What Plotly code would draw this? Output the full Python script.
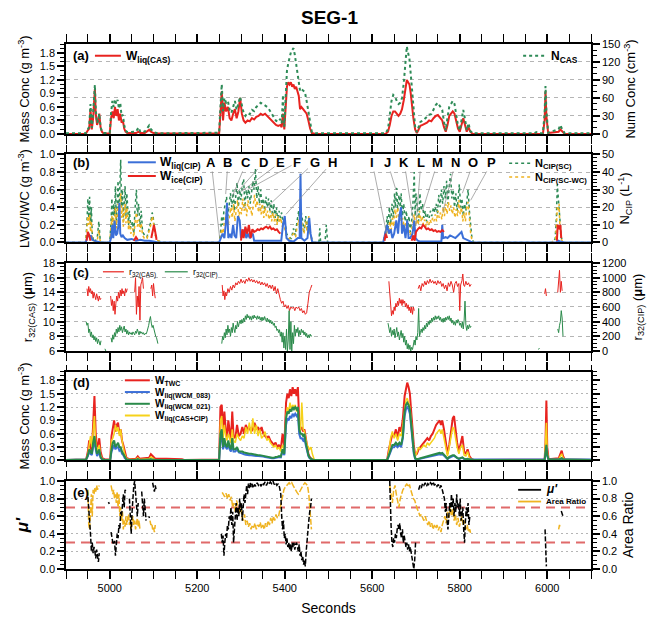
import plotly.graph_objects as go

FONT = "Liberation Sans, Arial, Helvetica, sans-serif"

# ---------------- Panel (a) ----------------
W_LIQ_CAS = [[4900,0],[4945,0],[4950,0.08],[4953,0.12],[4956,0.55],[4959,0.1],[4962,0.35],[4964,0.7],[4966,1.0],[4968,0.45],
    [4971,0.2],[4974,0.3],[4976,0.45],[4979,0.15],[4982,0.05],[4986,0.01],[5000,0.01],[5003,0.35],[5006,0.5],[5009,0.35],
    [5012,0.6],[5015,0.4],[5018,0.55],[5021,0.3],[5024,0.45],[5027,0.25],[5030,0.3],[5033,0.12],[5036,0.05],[5040,0.02],
    [5050,0.02],[5060,0.02],[5066,0.05],[5070,0.02],[5080,0.02],[5086,0.06],[5090,0.09],[5094,0.05],[5100,0.02],[5110,0.01],
    [5250,0.01],[5253,0.45],[5256,0.95],[5259,0.3],[5262,0.7],[5266,0.5],[5270,0.6],[5274,0.35],[5278,0.3],[5282,0.45],
    [5286,0.55],[5290,0.35],[5294,0.5],[5298,0.8],[5302,0.45],[5306,0.3],[5310,0.25],[5315,0.3],[5320,0.28],[5325,0.35],
    [5330,0.32],[5335,0.38],[5340,0.4],[5345,0.45],[5350,0.42],[5355,0.45],[5360,0.4],[5365,0.35],[5370,0.3],[5375,0.25],
    [5380,0.2],[5385,0.18],[5390,0.2],[5393,0.15],[5396,0.45],[5399,0.1],[5402,0.6],[5405,1.05],[5408,1.15],[5411,1.1],
    [5414,1.15],[5417,1.05],[5420,1.1],[5423,1.0],[5426,1.05],[5429,0.95],[5432,0.85],[5435,0.55],[5438,0.6],[5442,0.55],
    [5446,0.5],[5450,0.45],[5454,0.3],[5458,0.12],[5462,0.02],[5470,0.0],[5630,0.0],[5636,0.05],[5640,0.2],[5644,0.4],
    [5648,0.5],[5652,0.5],[5656,0.45],[5660,0.4],[5664,0.45],[5668,0.55],[5672,0.75],[5676,1.05],[5679,1.2],[5682,1.15],
    [5685,1.1],[5688,0.9],[5691,0.6],[5694,0.35],[5698,0.1],[5702,0.02],[5706,0.1],[5710,0.18],[5715,0.2],[5720,0.22],
    [5725,0.25],[5730,0.3],[5735,0.28],[5740,0.35],[5745,0.4],[5750,0.42],[5755,0.35],[5760,0.3],[5764,0.15],[5768,0.05],
    [5772,0.2],[5776,0.4],[5780,0.45],[5784,0.5],[5788,0.45],[5792,0.3],[5796,0.12],[5800,0.05],[5804,0.2],[5808,0.35],
    [5812,0.2],[5816,0.05],[5820,0.15],[5824,0.05],[5830,0.0],[5990,0.0],[5994,0.3],[5996,0.95],[5998,0.4],[6002,0.02],
    [6026,0.05],[6030,0.1],[6034,0.06],[6040,0.0],[6100,0.0]]

N_CAS = [[4900,1],[4945,1],[4950,8],[4953,12],[4956,50],[4959,10],[4962,35],[4964,60],[4966,82],[4968,40],
    [4971,18],[4974,25],[4976,34],[4979,12],[4982,4],[4986,1.5],[5000,2],[5003,35],[5006,55],[5009,45],
    [5012,58],[5015,50],[5018,57],[5021,42],[5024,52],[5027,30],[5030,32],[5033,15],[5036,6],[5040,3],
    [5050,3],[5060,4],[5066,11],[5070,3],[5080,4],[5086,10],[5090,14],[5094,8],[5100,3],[5110,1],
    [5250,2],[5253,45],[5256,83],[5259,38],[5262,60],[5266,52],[5270,55],[5274,40],[5278,35],[5282,45],
    [5286,55],[5290,40],[5294,50],[5298,62],[5302,48],[5306,35],[5310,30],[5315,35],[5320,33],[5325,40],
    [5330,38],[5335,45],[5340,48],[5345,52],[5350,50],[5355,48],[5360,45],[5365,40],[5370,35],[5375,28],
    [5380,22],[5385,20],[5390,25],[5393,18],[5396,65],[5399,12],[5402,60],[5405,105],[5408,118],[5411,128],
    [5414,136],[5417,140],[5420,143],[5423,132],[5426,115],[5429,100],[5432,85],[5435,72],[5438,75],[5442,72],
    [5446,70],[5450,55],[5454,35],[5458,15],[5462,3],[5470,1],[5630,1],[5636,8],[5640,30],[5644,55],
    [5648,65],[5652,62],[5656,55],[5660,50],[5664,52],[5668,60],[5672,85],[5676,125],[5679,146],[5682,135],
    [5685,125],[5688,100],[5691,70],[5694,40],[5698,12],[5702,3],[5706,12],[5710,20],[5715,22],[5720,25],
    [5725,28],[5730,32],[5735,33],[5740,40],[5745,48],[5750,52],[5755,45],[5760,40],[5764,20],[5768,6],
    [5772,28],[5776,45],[5780,50],[5784,55],[5788,50],[5792,35],[5796,14],[5800,6],[5804,25],[5808,40],
    [5812,25],[5816,6],[5820,18],[5824,5],[5830,1],[5970,1],[5975,3],[5980,1],[5990,1],[5994,35],
    [5996,80],[5998,40],[6002,2],[6026,8],[6030,15],[6034,8],[6040,1],[6100,1]]

# ---------------- Panel (b) ----------------
W_LIQ_CIP = [[4900,0],[4945,0],[4948,0.05],[4951,0.1],[4954,0.06],[4957,0.08],[4960,0.03],[4965,0.02],[4970,0.01],[4980,0],
    [5000,0],[5003,0.05],[5006,0.2],[5008,0.05],[5011,0.25],[5014,0.08],[5017,0.1],[5020,0.2],[5022,0.45],[5024,0.1],
    [5027,0.06],[5030,0.08],[5034,0.05],[5040,0.03],[5050,0.04],[5060,0.02],[5070,0.03],[5080,0.02],[5090,0.02],[5100,0.01],
    [5110,0],[5250,0],[5254,0.05],[5258,0.1],[5262,0.05],[5265,0.2],[5268,0.45],[5271,0.05],[5275,0.1],[5278,0.05],
    [5282,0.2],[5285,0.08],[5289,0.05],[5293,0.3],[5297,0.25],[5300,0.05],[5304,0.1],[5308,0.15],[5312,0.05],[5316,0.1],
    [5320,0.05],[5327,0.1],[5330,0.02],[5392,0.02],[5396,0.2],[5400,0.3],[5404,0.05],[5410,0.02],[5420,0.01],[5430,0.05],
    [5434,0.05],[5436,0.78],[5438,0.05],[5445,0.02],[5452,0.05],[5456,0.28],[5459,0.1],[5463,0],[5625,0],[5630,0.1],
    [5634,0.2],[5638,0.1],[5642,0.15],[5646,0.05],[5650,0.1],[5655,0.25],[5659,0.1],[5662,0.3],[5666,0.4],[5668,0.1],
    [5672,0.2],[5676,0.05],[5680,0.25],[5683,0.05],[5687,0.05],[5692,0.1],[5696,0.25],[5699,0.05],[5704,0.02],[5710,0.01],
    [5758,0.01],[5760,0.2],[5762,0.05],[5768,0.06],[5772,0.05],[5778,0.08],[5784,0.06],[5790,0.05],[5796,0.08],[5800,0.1],
    [5804,0.12],[5808,0.05],[5815,0.03],[5825,0.01],[5830,0],[6020,0],[6025,0.02],[6030,0.01],[6040,0],[6100,0]]

W_ICE_CIP = [[4947,0.02],[4950,0.12],[4953,0.08],[4956,0.02],[4960,None],
    [5055,0.02],[5060,0.06],[5064,0.03],[5070,None],
    [5095,0.05],[5098,0.15],[5101,0.2],[5104,0.12],[5107,0.03],[5110,None],
    [5300,0.02],[5303,0.15],[5306,0.05],[5310,0.18],[5314,0.1],[5318,0.2],[5322,0.05],[5326,0.15],[5330,0.12],[5334,0.13],
    [5338,0.15],[5342,0.14],[5346,0.16],[5350,0.15],[5354,0.17],[5358,0.18],[5362,0.16],[5366,0.18],[5370,0.15],[5374,0.16],
    [5378,0.14],[5382,0.15],[5386,0.12],[5390,0.1],[5393,None],
    [5628,0.02],[5631,0.1],[5634,0.05],[5638,None],
    [5690,0.02],[5694,0.08],[5697,0.02],[5700,0.12],[5704,0.15],[5708,0.17],[5712,0.16],[5716,0.2],[5720,0.18],[5724,0.15],
    [5728,0.16],[5732,0.14],[5736,0.15],[5740,0.13],[5744,0.14],[5748,0.12],[5752,0.13],[5756,0.12],[5760,0.14],[5764,0.12],
    [5768,None],
    [6022,0.02],[6024,0.2],[6027,0.15],[6030,0.2],[6032,0.05],[6034,None]]

N_CIP_SC = [[4900,0],[4945,0],[4948,12],[4950,25],[4952,14],[4954,26],[4956,10],[4958,20],[4960,5],[4962,2],
    [4966,0],[4972,4],[4975,12],[4978,2],[4982,0],[5000,0],[5003,12],[5005,25],[5007,8],[5009,22],
    [5011,15],[5013,32],[5015,10],[5017,20],[5019,35],[5021,15],[5023,40],[5025,47],[5027,20],[5029,30],
    [5031,12],[5033,25],[5035,32],[5037,15],[5039,28],[5041,20],[5043,10],[5045,18],[5048,8],[5052,12],
    [5055,5],[5058,20],[5061,30],[5063,15],[5066,22],[5069,10],[5072,18],[5075,6],[5080,4],[5085,3],
    [5090,8],[5094,12],[5097,17],[5099,15],[5101,10],[5104,5],[5110,1],[5120,0],[5250,0],[5253,5],
    [5256,15],[5258,10],[5261,18],[5264,22],[5267,26],[5270,15],[5273,22],[5276,28],[5279,20],[5282,30],
    [5285,18],[5288,26],[5291,34],[5294,20],[5297,30],[5300,24],[5303,33],[5306,36],[5309,20],[5312,30],
    [5315,25],[5318,32],[5321,22],[5324,28],[5327,35],[5330,30],[5333,42],[5336,25],[5339,32],[5342,22],
    [5345,30],[5348,20],[5351,25],[5354,18],[5357,26],[5360,20],[5363,25],[5366,18],[5369,24],[5372,15],
    [5375,22],[5378,14],[5381,20],[5384,12],[5387,18],[5390,14],[5393,17],[5396,10],[5400,14],[5404,5],
    [5410,3],[5415,2],[5420,8],[5424,4],[5428,12],[5432,18],[5434,8],[5438,17],[5441,12],[5444,6],
    [5448,15],[5451,8],[5455,14],[5458,6],[5462,2],[5466,0],[5478,0],[5480,8],[5482,0],[5492,0],
    [5495,10],[5498,0],[5625,0],[5628,3],[5631,7],[5634,15],[5636,8],[5639,20],[5642,10],[5645,22],
    [5648,14],[5651,28],[5653,20],[5656,31],[5658,18],[5661,27],[5664,20],[5666,28],[5669,15],[5672,22],
    [5675,12],[5678,18],[5681,8],[5684,15],[5687,6],[5690,12],[5693,22],[5696,40],[5698,15],[5700,28],
    [5703,20],[5706,12],[5709,28],[5712,18],[5715,22],[5718,14],[5721,18],[5724,12],[5727,16],[5730,14],
    [5733,18],[5736,15],[5740,20],[5743,17],[5746,22],[5749,16],[5752,27],[5755,20],[5758,30],[5761,22],
    [5764,32],[5767,25],[5770,35],[5773,22],[5776,32],[5779,39],[5782,25],[5785,30],[5788,20],[5791,28],
    [5794,18],[5797,30],[5799,33],[5802,20],[5805,25],[5808,15],[5811,22],[5814,18],[5817,28],[5819,30],
    [5822,18],[5825,8],[5828,2],[5832,0],[6010,0],[6018,2],[6021,15],[6023,33],[6025,25],[6027,20],
    [6029,10],[6032,3],[6036,0],[6100,0]]

N_CIP_SCWC = [[4900,0],[4945,0],[4948,8],[4950,15],[4952,10],[4954,16],[4956,6],[4958,12],[4960,3],[4963,0],
    [4972,2],[4975,7],[4978,1],[4982,0],[5000,0],[5003,8],[5005,15],[5007,6],[5009,14],[5011,10],
    [5013,20],[5015,8],[5017,14],[5019,22],[5021,10],[5023,24],[5025,28],[5027,14],[5029,20],[5031,9],
    [5033,18],[5035,22],[5037,11],[5039,20],[5041,14],[5043,7],[5045,12],[5048,5],[5052,8],[5055,3],
    [5058,12],[5061,17],[5063,9],[5066,13],[5069,6],[5072,11],[5075,4],[5080,2],[5085,2],[5090,6],
    [5094,10],[5097,15],[5099,13],[5101,8],[5104,4],[5110,1],[5120,0],[5250,0],[5253,3],[5256,8],
    [5259,5],[5262,12],[5265,15],[5268,18],[5271,10],[5274,16],[5277,20],[5280,14],[5283,22],[5286,12],
    [5289,18],[5292,24],[5295,14],[5298,20],[5301,16],[5304,25],[5307,18],[5310,22],[5313,15],[5316,24],
    [5319,18],[5322,20],[5325,15],[5328,22],[5331,27],[5334,20],[5337,24],[5340,17],[5343,22],[5346,16],
    [5349,22],[5352,14],[5355,20],[5358,15],[5361,18],[5364,13],[5367,18],[5370,12],[5373,17],[5376,12],
    [5379,16],[5382,10],[5385,15],[5388,11],[5391,14],[5394,9],[5397,12],[5400,8],[5404,3],[5410,2],
    [5420,5],[5425,3],[5428,9],[5432,13],[5435,6],[5438,12],[5441,9],[5444,5],[5448,12],[5451,6],
    [5455,15],[5458,5],[5462,1],[5466,0],[5625,0],[5628,2],[5631,4],[5634,9],[5637,5],[5640,12],
    [5643,7],[5646,14],[5649,9],[5652,19],[5655,14],[5658,20],[5661,12],[5664,16],[5667,10],[5670,14],
    [5673,8],[5676,11],[5679,6],[5682,9],[5686,4],[5690,7],[5693,12],[5696,16],[5699,9],[5702,15],
    [5705,10],[5708,18],[5711,12],[5714,15],[5717,10],[5720,13],[5723,9],[5726,12],[5729,10],[5732,13],
    [5735,11],[5738,14],[5741,12],[5744,16],[5747,12],[5750,18],[5753,14],[5756,17],[5759,13],[5762,20],
    [5765,15],[5768,22],[5771,16],[5774,23],[5777,18],[5780,21],[5783,16],[5786,20],[5789,14],[5792,19],
    [5795,15],[5798,24],[5801,16],[5804,20],[5807,12],[5810,17],[5813,12],[5816,20],[5819,23],[5822,12],
    [5825,5],[5828,1],[5832,0],[6010,0],[6019,2],[6021,10],[6023,20],[6025,18],[6027,22],[6029,8],
    [6032,2],[6036,0],[6100,0]]

# letters A..P in panel (b): label time, target time and target value
LETTERS = ["A","B","C","D","E","F","G","H","I","J","K","L","M","N","O","P"]
LETTER_T = [5232,5270,5312,5352,5390,5428,5468,5508,5600,5635,5673,5711,5749,5790,5831,5873]
LETTER_Y = 0.91
TARGET_T = [5251,5265,5280,5289,5301,5315,5361,5403,5633,5654,5694,5700,5715,5761,5806,5825]
TARGET_V = [0.06,0.55,0.52,0.56,0.58,0.60,0.41,0.32,0.09,0.60,0.24,0.19,0.36,0.34,0.56,0.48]

# ---------------- Panel (c) ----------------
R32_CAS = [[4948,14.5],[4950,13.5],[4952,14.8],[4954,14],[4956,14.5],[4958,13.8],[4960,14.2],[4962,13.2],[4964,14],[4966,13.5],
    [4968,13],[4970,13.8],[4972,13.2],[4974,12.8],[4976,13.5],[4978,13],[4980,13.2],[4982,None],
    [5002,13.5],[5004,12.2],[5006,13],[5008,11.5],[5010,12.8],[5012,11],[5014,12.5],[5016,13.5],[5018,12.8],[5020,14],
    [5022,13.2],[5024,14.3],[5026,13.5],[5028,14.5],[5030,13.8],[5032,14.2],[5034,13.5],[5036,14.5],[5038,14],[5040,14.5],[5042,None],
    [5057,14],[5059,16],[5061,11],[5063,13.5],[5065,12],[5067,14.8],[5069,10.2],[5071,15],[5073,15.5],[5075,16],[5077,14.5],[5078,None],
    [5094,14.5],[5096,15],[5098,13.5],[5100,15.2],[5102,14],[5104,13.2],[5106,None],
    [5257,15],[5259,13.5],[5261,14.2],[5263,13],[5265,14],[5267,13.5],[5270,14.5],[5273,14],[5276,14.8],[5279,14.3],
    [5282,15],[5285,14.6],[5288,15.3],[5291,15],[5294,15.5],[5297,15.2],[5300,15.8],[5303,15.3],[5306,15.6],[5309,15.2],
    [5312,15.8],[5315,15.5],[5318,16],[5321,15.5],[5324,15.8],[5327,15.4],[5330,15.7],[5333,15.3],[5336,15.6],[5339,15.2],
    [5342,15.5],[5345,15],[5348,15.4],[5351,15],[5354,15.3],[5357,14.8],[5360,15.2],[5363,14.6],[5366,15],[5369,14.5],
    [5372,15],[5375,14.2],[5378,14.8],[5381,13.8],[5384,14.5],[5387,13.5],[5390,13],[5393,12.5],[5396,12.8],[5399,12],
    [5402,12.3],[5405,11.8],[5408,12.2],[5411,11.5],[5414,12],[5417,11.8],[5420,12],[5423,11.5],[5426,12],[5429,11.8],
    [5432,12],[5435,11.5],[5438,11.8],[5441,11.2],[5444,11.5],[5447,11],[5450,11.2],[5453,12.5],[5456,14],[5459,14.5],
    [5462,15],[5464,None],
    [5638,15.5],[5640,14],[5642,11.5],[5644,10.8],[5646,11.5],[5648,11],[5650,12],[5652,11.5],[5654,12.5],[5656,12],
    [5658,12.8],[5660,12.2],[5662,13.2],[5664,12.5],[5666,13],[5668,12.2],[5670,13],[5672,12.5],[5674,12.8],[5676,12],
    [5678,12.5],[5680,11.8],[5682,12.3],[5684,11.5],[5686,12],[5688,11.2],[5690,12],[5692,11],[5694,12],[5696,11.5],[5698,None],
    [5705,14.5],[5708,15],[5711,14.2],[5714,15.2],[5717,14.8],[5720,15.5],[5723,15],[5726,15.6],[5729,15.2],[5732,15.8],
    [5735,15.3],[5738,15.6],[5741,15.2],[5744,15.5],[5747,15],[5750,15.6],[5753,15.2],[5756,15.5],[5759,14.8],[5762,15.2],
    [5765,14.5],[5768,15],[5771,14.2],[5774,15.3],[5777,14.8],[5780,15.5],[5783,15],[5786,14],[5789,15.2],[5792,15.5],
    [5795,14.8],[5798,15.2],[5800,11.5],[5802,15],[5805,15.6],[5807,16.5],[5809,15],[5811,14.8],[5814,15.5],[5817,15],
    [5820,15.3],[5823,14.8],[5826,15.1],[5828,None],
    [5994,13.8],[5996,14.5],[5998,13.5],[6000,None],
    [6024,14],[6026,16],[6028,17],[6030,14],[6032,15.5],[6034,14.2],[6036,None]]

R32_CIP = [[4946,400],[4948,350],[4950,380],[4952,250],[4954,300],[4956,200],[4958,260],[4960,180],[4962,220],[4964,150],
    [4966,200],[4968,130],[4970,180],[4972,100],[4974,160],[4976,120],[4978,80],[4980,140],[4982,None],[4989,30],[4991,0],[4993,None],
    [5003,180],[5005,120],[5007,220],[5009,160],[5011,250],[5013,200],[5015,300],[5017,240],[5019,320],[5021,260],
    [5023,350],[5025,280],[5027,330],[5029,250],[5031,300],[5033,340],[5035,260],[5037,300],[5039,230],[5041,280],
    [5043,220],[5045,260],[5047,230],[5049,250],[5051,220],[5053,260],[5055,240],[5057,220],[5059,270],[5061,240],
    [5063,300],[5065,250],[5067,220],[5069,270],[5071,240],[5073,260],[5075,230],[5077,250],[5079,220],[5081,240],
    [5083,230],[5085,260],[5087,300],[5089,350],[5091,420],[5093,470],[5095,380],[5097,320],[5099,350],[5101,280],
    [5103,250],[5105,200],[5107,180],[5110,100],[5112,None],
    [5256,100],[5258,200],[5260,150],[5262,250],[5264,180],[5266,300],[5268,220],[5270,350],[5272,250],[5274,300],
    [5276,200],[5278,320],[5280,250],[5282,380],[5284,300],[5286,250],[5288,350],[5290,300],[5292,400],[5294,330],
    [5296,380],[5298,420],[5300,370],[5302,430],[5304,380],[5306,450],[5308,400],[5310,480],[5312,430],[5314,500],
    [5316,450],[5318,480],[5320,430],[5322,470],[5324,420],[5326,480],[5328,440],[5330,490],[5332,450],[5334,470],
    [5336,430],[5338,480],[5340,440],[5342,470],[5344,420],[5346,460],[5348,410],[5350,460],[5352,420],[5354,470],
    [5356,430],[5358,400],[5360,450],[5362,400],[5364,430],[5366,380],[5368,420],[5370,370],[5372,400],[5374,350],
    [5376,380],[5378,320],[5380,340],[5382,280],[5384,300],[5386,250],[5388,290],[5390,200],[5392,260],[5394,120],
    [5396,250],[5398,40],[5400,200],[5402,20],[5404,300],[5406,0],[5408,150],[5410,550],[5412,20],[5414,400],
    [5416,0],[5418,250],[5420,100],[5422,350],[5424,200],[5426,300],[5428,250],[5430,320],[5432,200],[5434,280],
    [5436,220],[5438,300],[5440,250],[5442,280],[5444,220],[5446,260],[5448,200],[5450,240],[5452,180],[5454,220],
    [5456,180],[5458,230],[5460,200],[5462,210],[5464,None],
    [5636,380],[5638,300],[5640,250],[5642,320],[5644,200],[5646,280],[5648,220],[5650,300],[5652,180],[5654,250],
    [5656,320],[5658,200],[5660,260],[5662,150],[5664,220],[5666,280],[5668,180],[5670,240],[5672,120],[5674,200],
    [5676,80],[5678,150],[5680,30],[5682,100],[5684,20],[5686,80],[5688,0],[5690,50],[5692,20],[5694,100],
    [5696,150],[5698,80],[5700,200],[5702,150],[5704,250],[5706,580],[5708,200],[5710,250],[5712,300],[5714,250],
    [5716,320],[5718,280],[5720,350],[5722,300],[5724,380],[5726,330],[5728,400],[5730,360],[5732,420],[5734,380],
    [5736,450],[5738,400],[5740,460],[5742,420],[5744,480],[5746,430],[5748,470],[5750,440],[5752,480],[5754,420],
    [5756,460],[5758,400],[5760,440],[5762,390],[5764,450],[5766,400],[5768,460],[5770,420],[5772,470],[5774,430],
    [5776,480],[5778,410],[5780,450],[5782,380],[5784,420],[5786,360],[5788,400],[5790,350],[5792,420],[5794,380],
    [5796,430],[5798,400],[5800,350],[5802,380],[5804,320],[5806,400],[5808,300],[5810,420],[5812,680],[5814,350],
    [5816,280],[5818,350],[5820,300],[5822,360],[5824,320],[5826,340],[5828,None],
    [5980,20],[5982,40],[5984,None],
    [6024,300],[6026,250],[6028,350],[6030,400],[6032,550],[6034,450],[6036,200],[6038,None]]

# ---------------- Panel (d) ----------------
T_D = [4900, 4946, 4950, 4953, 4956, 4959, 4962, 4965, 4968, 4971,
       4974, 4976, 4979, 4983, 4990, 5001, 5004, 5007, 5010, 5013,
       5016, 5019, 5022, 5025, 5028, 5031, 5034, 5038, 5045, 5060,
       5064, 5068, 5090, 5094, 5098, 5104, 5130, 5165, 5170, 5250,
       5253, 5256, 5259, 5262, 5265, 5268, 5271, 5274, 5277, 5280,
       5283, 5287, 5291, 5295, 5299, 5303, 5307, 5311, 5315, 5319,
       5323, 5327, 5331, 5335, 5339, 5343, 5347, 5351, 5355, 5359,
       5363, 5367, 5371, 5375, 5379, 5383, 5387, 5391, 5395, 5399,
       5403, 5406, 5409, 5412, 5415, 5418, 5421, 5424, 5427, 5430,
       5433, 5436, 5439, 5442, 5445, 5448, 5451, 5454, 5457, 5460,
       5463, 5468, 5634, 5638, 5642, 5646, 5650, 5654, 5658, 5662,
       5666, 5670, 5674, 5677, 5680, 5683, 5686, 5689, 5692, 5695,
       5698, 5702, 5706, 5710, 5714, 5718, 5722, 5726, 5730, 5734,
       5738, 5742, 5746, 5750, 5754, 5757, 5760, 5764, 5768, 5772,
       5776, 5780, 5784, 5787, 5790, 5794, 5798, 5802, 5806, 5810,
       5814, 5818, 5822, 5827, 5832, 5994, 5996, 5998, 6000, 6003,
       6026, 6030, 6033, 6036, 6040, 6100]
W_TWC = [0.01, 0.02, 0.2, 0.45, 0.3, 0.2, 0.8, 1.45, 0.6, 0.3,
         0.35, 0.5, 0.2, 0.05, 0.02, 0.02, 0.55, 0.75, 0.9, 0.65,
         0.8, 0.85, 0.6, 0.7, 0.45, 0.35, 0.2, 0.06, 0.03, 0.04,
         0.09, 0.04, 0.06, 0.14, 0.1, 0.04, 0.04, 0.03, 0.01, 0.02,
         1.2, 1.25, 0.6, 1.1, 0.7, 0.5, 0.9, 0.6, 0.45, 1.1,
         0.55, 0.5, 0.8, 0.55, 0.6, 0.75, 0.6, 0.8, 0.7, 0.75,
         0.65, 0.7, 0.85, 0.7, 0.75, 0.65, 0.75, 0.6, 0.55, 0.5,
         0.55, 0.45, 0.4, 0.35, 0.4, 0.3, 0.35, 0.25, 0.6, 0.3,
         1.3, 1.5, 1.4, 1.6, 1.45, 1.65, 1.5, 1.6, 1.45, 1.65,
         0.9, 0.7, 0.75, 0.65, 0.7, 0.5, 0.3, 0.15, 0.08, 0.04,
         0.02, 0.01, 0.01, 0.25, 0.45, 0.6, 0.55, 0.7, 0.5, 0.75,
         0.65, 0.95, 1.45, 1.65, 1.75, 1.65, 1.5, 1.1, 0.6, 0.35,
         0.12, 0.15, 0.25, 0.3, 0.35, 0.4, 0.45, 0.5, 0.45, 0.55,
         0.6, 0.7, 0.8, 0.85, 0.9, 0.8, 0.9, 0.7, 0.4, 0.15,
         0.35, 0.7, 0.95, 1.0, 0.7, 0.4, 0.2, 0.4, 0.55, 0.2,
         0.15, 0.25, 0.1, 0.03, 0.01, 0.02, 0.4, 1.35, 0.3, 0.03,
         0.05, 0.15, 0.22, 0.1, 0.02, 0.01]
W_WCM_083 = [0.01, 0.02, 0.1, 0.2, 0.15, 0.12, 0.3, 0.45, 0.25, 0.1,
             0.15, 0.2, 0.06, 0.02, 0.01, 0.01, 0.2, 0.3, 0.35, 0.25,
             0.3, 0.3, 0.22, 0.25, 0.15, 0.12, 0.06, 0.02, 0.01, 0.01,
             0.02, 0.01, 0.01, 0.02, 0.02, 0.01, 0.01, 0.01, 0.01, 0.01,
             0.5, 0.55, 0.25, 0.4, 0.3, 0.25, 0.4, 0.25, 0.2, 0.4,
             0.2, 0.2, 0.25, 0.18, 0.17, 0.15, 0.14, 0.13, 0.12, 0.12,
             0.12, 0.11, 0.11, 0.1, 0.1, 0.1, 0.09, 0.09, 0.08, 0.07,
             0.06, 0.06, 0.05, 0.05, 0.06, 0.06, 0.08, 0.07, 0.2, 0.12,
             0.8, 0.95, 0.9, 1.0, 0.95, 1.05, 1.0, 1.05, 1.0, 1.05,
             0.6, 0.5, 0.5, 0.45, 0.5, 0.35, 0.2, 0.1, 0.05, 0.02,
             0.01, 0.01, 0.01, 0.1, 0.2, 0.3, 0.3, 0.35, 0.3, 0.35,
             0.3, 0.5, 1.0, 1.15, 1.2, 1.15, 1.05, 0.7, 0.35, 0.15,
             0.04, 0.02, 0.03, 0.04, 0.05, 0.06, 0.07, 0.08, 0.08, 0.09,
             0.1, 0.11, 0.12, 0.13, 0.14, 0.13, 0.14, 0.11, 0.07, 0.03,
             0.06, 0.09, 0.1, 0.1, 0.08, 0.05, 0.03, 0.05, 0.06, 0.03,
             0.02, 0.03, 0.02, 0.02, 0.02, 0.02, 0.15, 0.3, 0.1, 0.02,
             0.02, 0.03, 0.04, 0.02, 0.02, 0.02]
W_WCM_021 = [0.01, 0.02, 0.12, 0.25, 0.2, 0.15, 0.4, 0.55, 0.3, 0.15,
             0.2, 0.25, 0.08, 0.02, 0.01, 0.01, 0.25, 0.4, 0.45, 0.3,
             0.35, 0.4, 0.3, 0.3, 0.2, 0.15, 0.08, 0.02, 0.01, 0.01,
             0.03, 0.01, 0.02, 0.03, 0.02, 0.01, 0.01, 0.01, 0.01, 0.01,
             0.6, 0.7, 0.3, 0.5, 0.35, 0.3, 0.45, 0.3, 0.25, 0.5,
             0.25, 0.25, 0.3, 0.2, 0.2, 0.2, 0.18, 0.17, 0.15, 0.15,
             0.15, 0.14, 0.14, 0.13, 0.12, 0.12, 0.11, 0.1, 0.1, 0.09,
             0.08, 0.07, 0.06, 0.06, 0.08, 0.08, 0.1, 0.09, 0.25, 0.15,
             0.95, 1.1, 1.05, 1.15, 1.1, 1.2, 1.15, 1.2, 1.15, 1.2,
             0.7, 0.6, 0.6, 0.55, 0.6, 0.4, 0.25, 0.12, 0.06, 0.03,
             0.02, 0.01, 0.01, 0.12, 0.25, 0.35, 0.35, 0.4, 0.35, 0.4,
             0.35, 0.55, 1.1, 1.25, 1.3, 1.25, 1.15, 0.8, 0.4, 0.2,
             0.05, 0.03, 0.04, 0.05, 0.06, 0.07, 0.08, 0.1, 0.1, 0.11,
             0.12, 0.13, 0.15, 0.16, 0.17, 0.16, 0.17, 0.13, 0.08, 0.04,
             0.08, 0.11, 0.12, 0.12, 0.09, 0.06, 0.04, 0.06, 0.07, 0.04,
             0.03, 0.04, 0.02, 0.02, 0.01, 0.01, 0.2, 0.35, 0.12, 0.02,
             0.02, 0.04, 0.05, 0.03, 0.02, 0.01]
W_CAS_CIP = [0.0, 0.02, 0.15, 0.4, 0.55, 0.3, 0.6, 1.0, 0.4, 0.2,
             0.3, 0.35, 0.12, 0.03, 0.01, 0.01, 0.45, 0.5, 0.6, 0.8,
             0.65, 0.75, 0.55, 0.7, 0.45, 0.3, 0.15, 0.04, 0.02, 0.02,
             0.06, 0.02, 0.04, 0.08, 0.06, 0.01, 0.0, 0.0, 0.0, 0.01,
             0.9, 1.0, 0.5, 0.8, 0.55, 0.45, 0.6, 0.5, 0.4, 0.7,
             0.45, 0.4, 0.6, 0.5, 0.45, 0.55, 0.5, 0.75, 0.6, 0.85,
             0.6, 0.95, 0.6, 0.8, 0.55, 0.7, 0.5, 0.55, 0.65, 0.45,
             0.5, 0.4, 0.35, 0.3, 0.35, 0.25, 0.3, 0.2, 0.35, 0.25,
             1.0, 1.2, 1.1, 1.3, 1.15, 1.25, 1.2, 1.25, 1.1, 1.2,
             0.75, 0.65, 1.3, 0.7, 0.65, 0.5, 0.35, 0.3, 0.25, 0.3,
             0.15, 0.0, 0.0, 0.2, 0.5, 0.65, 0.5, 0.6, 0.45, 0.6,
             0.55, 0.8, 1.2, 1.35, 1.4, 1.3, 1.2, 0.9, 0.5, 0.25,
             0.08, 0.2, 0.3, 0.25, 0.3, 0.35, 0.3, 0.4, 0.35, 0.4,
             0.45, 0.5, 0.6, 0.65, 0.7, 0.6, 0.7, 0.5, 0.3, 0.1,
             0.3, 0.55, 0.75, 0.7, 0.5, 0.3, 0.15, 0.3, 0.35, 0.12,
             0.1, 0.2, 0.06, 0.02, 0.0, 0.0, 0.3, 0.85, 0.2, 0.02,
             0.03, 0.1, 0.15, 0.06, 0.01, 0.0]

# ---------------- Panel (e) ----------------
MU_PRIME = [[4950,0.82],[4952,0.7],[4954,0.55],[4956,0.4],[4958,0.2],[4960,0.3],[4962,0.18],[4964,0.25],[4966,0.2],[4968,0.12],
    [4970,0.22],[4972,0.15],[4974,0.08],[4976,0.18],[4978,None],[4997,0.76],[4999,0.74],[5000,None],
    [5003,0.42],[5005,0.35],[5007,0.3],[5009,0.28],[5011,0.32],[5013,0.15],[5015,0.3],[5017,0.4],[5019,0.35],[5021,0.5],
    [5023,0.45],[5025,0.65],[5027,0.6],[5029,0.8],[5031,0.85],[5033,0.7],[5035,0.9],[5037,0.88],[5039,None],
    [5045,0.8],[5047,0.55],[5049,0.4],[5051,0.65],[5053,0.9],[5055,0.95],[5057,1.0],[5059,0.85],[5061,0.7],[5063,0.6],[5065,0.75],[5067,None],
    [5073,0.88],[5075,0.75],[5077,0.6],[5079,0.8],[5081,0.7],[5083,0.55],[5085,None],[5089,0.6],[5091,0.58],[5092,None],
    [5098,0.98],[5100,0.92],[5102,0.88],[5104,0.95],[5106,0.9],[5108,None],
    [5255,0.4],[5257,0.3],[5259,0.38],[5261,0.15],[5263,0.3],[5265,0.4],[5267,0.35],[5269,0.5],[5271,0.45],[5273,0.6],
    [5275,0.55],[5277,0.7],[5279,0.5],[5281,0.65],[5283,0.3],[5285,0.45],[5287,0.6],[5289,0.75],[5291,0.55],[5293,0.7],
    [5295,0.6],[5297,0.8],[5299,0.65],[5301,0.75],[5303,0.55],[5305,0.7],[5307,0.85],[5309,0.75],[5311,0.9],[5313,0.95],
    [5315,0.85],[5317,0.97],[5319,0.92],[5321,0.98],[5323,0.93],[5325,0.97],[5328,0.92],[5331,0.96],[5334,0.94],[5337,0.98],
    [5340,0.95],[5343,0.97],[5346,0.94],[5349,0.98],[5352,0.96],[5355,0.99],[5358,0.95],[5361,0.98],[5364,0.96],[5367,0.99],
    [5370,0.97],[5373,1.0],[5376,0.96],[5379,0.98],[5382,0.95],[5385,0.97],[5388,0.93],[5391,0.85],[5393,0.6],[5395,0.45],
    [5397,0.55],[5399,0.35],[5401,0.4],[5403,0.28],[5405,0.35],[5407,0.25],[5409,0.3],[5411,0.22],[5413,0.28],[5415,0.2],
    [5417,0.3],[5419,0.25],[5421,0.3],[5423,0.22],[5425,0.28],[5427,0.3],[5429,0.25],[5431,0.2],[5433,0.28],[5435,0.15],
    [5437,0.2],[5439,0.1],[5441,0.15],[5443,0.05],[5445,0.1],[5447,0.03],[5449,0.2],[5451,0.35],[5453,0.45],[5455,0.55],
    [5457,0.65],[5459,0.7],[5461,0.8],[5463,None],
    [5640,1.0],[5641,0.7],[5643,0.5],[5645,0.3],[5647,0.25],[5649,0.35],[5651,0.3],[5653,0.4],[5655,0.35],[5657,0.45],
    [5659,0.5],[5661,0.45],[5663,0.52],[5665,0.4],[5667,0.35],[5669,0.45],[5671,0.3],[5673,0.38],[5675,0.32],[5677,0.25],
    [5679,0.3],[5681,0.22],[5683,0.28],[5685,0.2],[5687,0.25],[5689,0.18],[5691,0.12],[5693,0.05],[5695,0.0],[5697,0.1],
    [5699,0.3],[5701,None],
    [5706,0.9],[5709,0.95],[5712,0.92],[5715,0.97],[5718,0.95],[5721,0.98],[5724,0.94],[5727,0.97],[5730,0.95],[5733,0.98],
    [5736,0.96],[5739,0.99],[5742,0.95],[5745,0.97],[5748,0.94],[5751,0.96],[5754,0.92],[5757,0.95],[5760,0.9],[5763,0.85],
    [5765,0.8],[5767,0.65],[5769,0.75],[5771,0.55],[5773,0.45],[5775,0.6],[5777,0.75],[5779,0.65],[5781,0.85],[5783,0.7],
    [5785,0.8],[5787,0.6],[5789,0.75],[5791,0.65],[5793,0.85],[5795,0.7],[5797,0.75],[5799,0.6],[5801,0.8],[5803,0.55],
    [5805,0.65],[5807,0.7],[5809,0.45],[5811,0.3],[5813,0.55],[5815,0.7],[5817,0.6],[5819,0.75],[5821,0.5],[5823,0.6],[5825,None],
    [5995,0.45],[5996,0.3],[5997,0.15],[5998,0.03],[5999,None],[6032,0.66],[6034,0.62],[6036,0.6],[6037,None]]

AREA_RATIO = [[4950,0.9],[4952,0.5],[4954,0.45],[4956,0.75],[4958,0.85],[4960,0.6],[4962,0.9],[4964,0.85],[4966,0.92],[4968,0.88],
    [4970,0.95],[4972,0.9],[4974,0.93],[4976,0.95],[4978,None],
    [5003,0.95],[5005,0.9],[5007,0.85],[5009,0.9],[5011,0.8],[5013,0.85],[5015,0.75],[5017,0.88],[5019,0.7],[5021,0.85],
    [5023,0.6],[5025,0.7],[5027,0.55],[5029,0.65],[5031,0.45],[5033,0.55],[5035,0.48],[5037,0.6],[5039,0.5],[5041,0.58],
    [5043,0.62],[5045,0.5],[5047,0.55],[5049,0.45],[5051,0.52],[5053,0.6],[5055,0.5],[5057,0.55],[5059,0.45],[5061,0.5],
    [5063,0.58],[5065,0.48],[5067,0.55],[5069,0.45],[5071,None],
    [5092,0.55],[5094,0.5],[5096,0.52],[5098,0.45],[5100,0.48],[5102,0.42],[5104,0.5],[5106,None],
    [5257,0.87],[5260,0.85],[5263,0.82],[5266,0.86],[5269,0.8],[5272,0.85],[5275,0.78],[5278,0.82],[5281,0.7],[5284,0.75],
    [5287,0.65],[5290,0.78],[5293,0.7],[5296,0.62],[5299,0.75],[5302,0.6],[5305,0.55],[5308,0.62],[5311,0.5],[5314,0.55],
    [5317,0.48],[5320,0.52],[5323,0.45],[5326,0.5],[5329,0.47],[5332,0.52],[5335,0.45],[5338,0.5],[5341,0.48],[5344,0.53],
    [5347,0.46],[5350,0.5],[5353,0.45],[5356,0.52],[5359,0.48],[5362,0.55],[5365,0.5],[5368,0.58],[5371,0.52],[5374,0.6],
    [5377,0.55],[5380,0.62],[5383,0.58],[5386,0.6],[5389,0.68],[5392,0.75],[5395,0.85],[5398,0.9],[5401,0.93],[5404,0.95],
    [5407,0.97],[5410,0.98],[5413,0.96],[5416,0.98],[5419,0.95],[5422,0.92],[5425,0.9],[5428,0.87],[5431,0.85],[5434,0.88],
    [5437,0.9],[5440,0.93],[5443,0.96],[5446,0.98],[5449,0.97],[5452,0.95],[5455,0.85],[5457,0.7],[5459,0.55],[5461,0.45],[5463,None],
    [5640,0.95],[5643,0.85],[5646,0.75],[5649,0.9],[5652,0.95],[5655,0.85],[5658,0.75],[5661,0.7],[5664,0.8],[5667,0.85],
    [5670,0.9],[5673,0.92],[5676,0.95],[5679,0.97],[5682,0.93],[5685,0.96],[5688,0.9],[5691,0.85],[5694,0.8],[5697,0.78],
    [5700,0.72],[5703,0.68],[5706,0.65],[5709,0.6],[5712,0.62],[5715,0.58],[5718,0.55],[5721,0.6],[5724,0.55],[5727,0.5],
    [5730,0.55],[5733,0.48],[5736,0.52],[5739,0.45],[5742,0.5],[5745,0.46],[5748,0.5],[5751,0.44],[5754,0.48],[5757,0.42],
    [5760,0.5],[5763,0.55],[5766,0.6],[5769,0.52],[5772,0.65],[5775,0.58],[5778,0.7],[5781,0.6],[5784,0.68],[5787,0.55],
    [5790,0.62],[5793,0.5],[5796,0.58],[5799,0.48],[5802,0.55],[5805,0.6],[5808,0.5],[5811,0.55],[5814,0.45],[5817,0.5],
    [5820,0.42],[5823,0.45],[5825,0.4],[5827,None],
    [6026,0.45],[6028,0.5],[6030,0.47],[6032,None]]

MU_THRESHOLDS = [0.3, 0.7]

assert len(T_D) == len(W_TWC) == len(W_WCM_083) == len(W_WCM_021) == len(W_CAS_CIP)

# ---------------- helpers ----------------
RED = "#e8231f"
GREEN = "#2e8b57"
BLUE = "#3b6fd8"
ORANGE = "#efb321"
YELLOW = "#f6d21a"
DGREEN = "#2a8a4a"

W, H = 655, 626
ML, MR, MT, MB = 66, 63, 44, 45
PW, PH = W - ML - MR, H - MT - MB


def px_x(px):
    return (px - ML) / PW


def px_y(py):
    return (H - MB - py) / PH


def tx(p):
    return [a for a, b in p]


def vy(p):
    return [b for a, b in p]


fig = go.Figure()


def line(x, y, xa, ya, color, width=2, dash=None):
    fig.add_trace(go.Scatter(x=x, y=y, xaxis=xa, yaxis=ya, mode="lines", showlegend=False,
                             connectgaps=False, hoverinfo="skip",
                             line=dict(color=color, width=width, dash=dash)))


# (a)
line(tx(W_LIQ_CAS), vy(W_LIQ_CAS), "x", "y", RED, 2)
line(tx(N_CAS), vy(N_CAS), "x", "y2", GREEN, 2, "dot")
# (b) N on main (right) axis y3, W on overlay (left) axis y4
line(tx(N_CIP_SC), vy(N_CIP_SC), "x2", "y3", GREEN, 1.5, "dot")
line(tx(N_CIP_SCWC), vy(N_CIP_SCWC), "x2", "y3", ORANGE, 1.5, "dot")
line(tx(W_LIQ_CIP), vy(W_LIQ_CIP), "x2", "y4", BLUE, 2)
line(tx(W_ICE_CIP), vy(W_ICE_CIP), "x2", "y4", RED, 2)
# (c)
line(tx(R32_CAS), vy(R32_CAS), "x3", "y5", RED, 1)
line(tx(R32_CIP), vy(R32_CIP), "x3", "y6", DGREEN, 1)
# (d)
line(T_D, W_TWC, "x4", "y7", RED, 2)
line(T_D, W_CAS_CIP, "x4", "y7", YELLOW, 1.5)
line(T_D, W_WCM_083, "x4", "y7", BLUE, 2)
line(T_D, W_WCM_021, "x4", "y7", DGREEN, 2)
# (e) area ratio on main (right) y8, mu' on overlay (left) y9
line(tx(AREA_RATIO), vy(AREA_RATIO), "x5", "y8", ORANGE, 1.5, "6px,2px")
line(tx(MU_PRIME), vy(MU_PRIME), "x5", "y9", "black", 1.5, "5px,2px")

tickfont = dict(size=11, family=FONT, color="black")
titlefont = dict(size=14, family=FONT, color="black")


def xax(anchor, labels=False):
    d = dict(domain=[0, 1], anchor=anchor, range=[4900, 6100], tick0=5000, dtick=200,
             ticks="outside", ticklen=8, tickwidth=1.5, tickcolor="black",
             showline=True, linewidth=1.5, linecolor="black", mirror="allticks",
             showgrid=False, zeroline=False, showticklabels=labels, tickfont=tickfont,
             minor=dict(dtick=50, ticklen=5, tickwidth=1, tickcolor="black", ticks="outside", showgrid=False))
    if labels:
        d["title"] = dict(text="Seconds", font=titlefont, standoff=10)
    return d


def yax(domain, rng, dtick, mdtick, side, anchor, title, overlaying=None, grid=None,
        labels=True, mirror=False, fmt=None, tsize=13):
    d = dict(range=rng, dtick=dtick, tick0=rng[0], side=side, anchor=anchor,
             ticks="outside", ticklen=7, tickwidth=1.5, tickcolor="black",
             showline=True, linewidth=1.5, linecolor="black", mirror=mirror,
             zeroline=False, showticklabels=labels, tickfont=tickfont,
             minor=dict(dtick=mdtick, ticklen=4, tickwidth=1, tickcolor="black", ticks="outside", showgrid=False),
             showgrid=grid is not None)
    if overlaying:
        d["overlaying"] = overlaying
    else:
        d["domain"] = domain
    if grid:
        d["gridcolor"] = "#b5b5b5"
        d["gridwidth"] = 1
        d["griddash"] = grid
    if fmt:
        d["tickformat"] = fmt
    if title:
        d["title"] = dict(text=title, font=dict(size=tsize, family=FONT, color="black"), standoff=7)
    return d


DA = [px_y(136), px_y(44)]
DB = [px_y(247), px_y(157)]
DC = [px_y(358), px_y(268)]
DD = [px_y(470), px_y(379)]
DE = [px_y(581), px_y(491)]

DASHG = "4px,4px"
DOTG = "2px,3px"

layout = dict(
    width=W, height=H, autosize=False,
    margin=dict(l=ML, r=MR, t=MT, b=MB, pad=0),
    paper_bgcolor="white", plot_bgcolor="rgba(0,0,0,0)",
    font=dict(family=FONT, color="black"),
    showlegend=False,
    xaxis=xax("y"), xaxis2=xax("y3"), xaxis3=xax("y5"), xaxis4=xax("y7"), xaxis5=xax("y8", True),
    yaxis=yax(DA, [0, 2.0], 0.3, 0.1, "left", "x", "Mass Conc (g m<sup>-3</sup>)", fmt=".1f"),
    yaxis2=yax(None, [0, 150], 30, 10, "right", "x", "Num Conc (cm<sup>-3</sup>)", overlaying="y", grid=DASHG),
    yaxis3=yax(DB, [0, 50], 10, 2, "right", "x2", "N<sub>CIP</sub> (L<sup>-1</sup>)", grid=DASHG),
    yaxis4=yax(None, [0, 1.0], 0.2, 0.05, "left", "x2", "LWC/IWC (g m<sup>-3</sup>)", overlaying="y3", fmt=".1f"),
    yaxis5=yax(DC, [6, 18], 2, 0.5, "left", "x3", "r<sub>32(CAS)</sub> (<b>μ</b>m)", grid=DASHG),
    yaxis6=yax(None, [0, 1200], 200, 50, "right", "x3", "r<sub>32(CIP)</sub> (<b>μ</b>m)", overlaying="y5"),
    yaxis7=yax(DD, [0, 2.0], 0.3, 0.1, "left", "x4", "Mass Conc (g m<sup>-3</sup>)", grid=DOTG, mirror="allticks", fmt=".1f"),
    yaxis8=yax(DE, [0, 1.0], 0.2, 0.05, "right", "x5", "Area Ratio", grid=DOTG, fmt=".1f", tsize=14),
    yaxis9=yax(None, [0, 1.0], 0.2, 0.05, "left", "x5", "<b><i>μ'</i></b>", overlaying="y8", fmt=".1f", tsize=17),
)

shapes = []
annotations = []

for th in MU_THRESHOLDS:
    shapes.append(dict(type="line", xref="x5", yref="y9", x0=4900, x1=6100, y0=th, y1=th,
                       layer="below", line=dict(color="#e06a6a", width=2, dash="9px,6px")))


def leg_line(x0, x1, y, color, width, dash=None):
    shapes.append(dict(type="line", xref="paper", yref="paper", x0=px_x(x0), x1=px_x(x1),
                       y0=px_y(y), y1=px_y(y), line=dict(color=color, width=width, dash=dash)))


def text(x, y, s, size, anchor="left"):
    annotations.append(dict(xref="paper", yref="paper", x=px_x(x), y=px_y(y), text=s, showarrow=False,
                            xanchor=anchor, yanchor="middle", font=dict(size=size, family=FONT, color="black")))


# title
text(330, 17, "<b>SEG-1</b>", 19, "center")
# panel labels
for lab, yy in [("(a)", 56), ("(b)", 165), ("(c)", 278), ("(d)", 390), ("(e)", 503)]:
    text(71, yy, "<b>" + lab + "</b>", 13)

# legends (a)
leg_line(95, 121, 56, RED, 2)
text(124, 57, "<b>W<sub>liq(CAS)</sub></b>", 12)
leg_line(524, 548, 56, GREEN, 2, "dot")
text(550, 57, "<b>N<sub>CAS</sub></b>", 12)
# legends (b)
leg_line(128, 156, 165, BLUE, 2)
text(158, 166, "<b>W<sub>liq(CIP)</sub></b>", 12)
leg_line(128, 156, 179, RED, 2)
text(158, 180, "<b>W<sub>ice(CIP)</sub></b>", 12)
leg_line(510, 532, 166, GREEN, 1.5, "dot")
text(534, 167, "<b>N<sub>CIP(SC)</sub></b>", 11)
leg_line(510, 532, 180, ORANGE, 1.5, "dot")
text(534, 181, "<b>N<sub>CIP(SC-WC)</sub></b>", 11)
# legends (c)
leg_line(103, 124, 277, RED, 1.2)
text(127, 278, "r<sub>32(CAS)</sub>", 9)
leg_line(165, 188, 277, DGREEN, 1.2)
text(191, 278, "r<sub>32(CIP)</sub>", 9)
# legends (d)
for yy, col, s in [(388, RED, "W<sub>TWC</sub>"), (400, BLUE, "W<sub>liq(WCM_083)</sub>"),
                   (412, DGREEN, "W<sub>liq(WCM_021)</sub>"), (424, YELLOW, "W<sub>liq(CAS+CIP)</sub>")]:
    leg_line(125, 150, yy, col, 2)
    text(153, yy + 1, "<b>" + s + "</b>", 10)
# legends (e)
leg_line(519, 542, 500, "black", 1.8)
text(545, 499, "<b><i>μ'</i></b>", 12)
leg_line(519, 542, 512, ORANGE, 1.8)
text(545, 512, "<b>Area Ratio</b>", 8)

# letters A..P
for lab, lt, tt, tv in zip(LETTERS, LETTER_T, TARGET_T, TARGET_V):
    annotations.append(dict(xref="x2", yref="y4", axref="x2", ayref="y4", x=tt, y=tv, ax=lt, ay=LETTER_Y,
                            text="<b>" + lab + "</b>", showarrow=True, arrowhead=0, arrowwidth=0.7,
                            arrowcolor="#8a8a8a", standoff=0, startstandoff=0,
                            font=dict(size=13, family=FONT, color="black")))

layout["shapes"] = shapes
layout["annotations"] = annotations
fig.update_layout(**layout)
fig.write_html("out.html")
